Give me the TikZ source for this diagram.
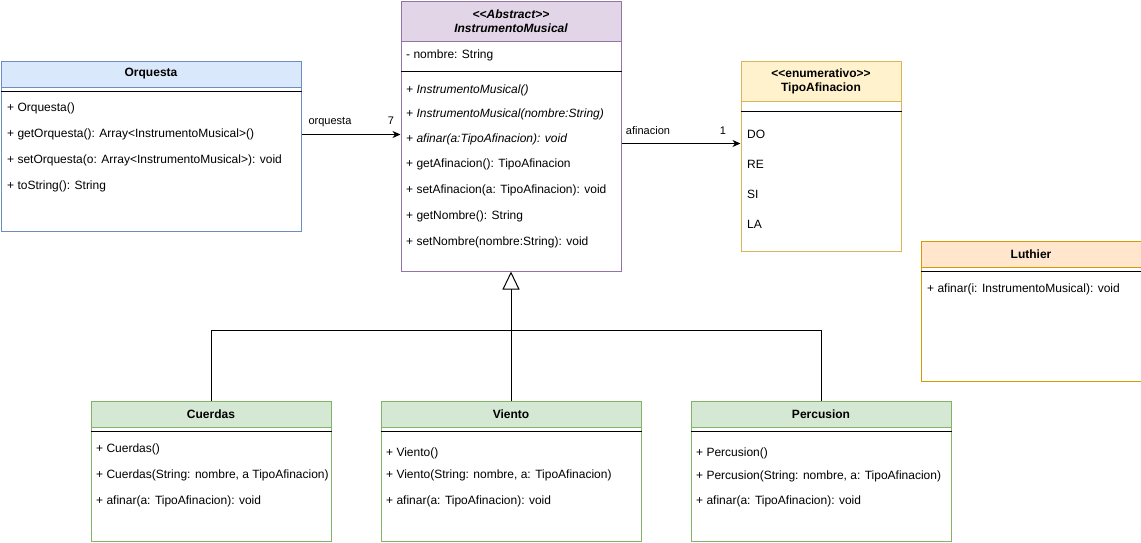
\documentclass[tikz,border=0pt]{standalone}
\usepackage{fontspec}
\setmainfont{Liberation Sans}
\usetikzlibrary{arrows.meta}
\definecolor{blueF}{HTML}{DAE8FC}\definecolor{blueS}{HTML}{6C8EBF}
\definecolor{purpleF}{HTML}{E1D5E7}\definecolor{purpleS}{HTML}{9673A6}
\definecolor{yellowF}{HTML}{FFF2CC}\definecolor{yellowS}{HTML}{D6B656}
\definecolor{orangeF}{HTML}{FFE6CC}\definecolor{orangeS}{HTML}{D79B00}
\definecolor{greenF}{HTML}{D5E8D4}\definecolor{greenS}{HTML}{82B366}
\tikzset{
  clsbox/.style={draw, fill=white, line width=1pt, anchor=north west, inner sep=0pt},
  hdr/.style={draw, line width=1pt, anchor=north west, inner sep=0pt, align=center,
    font=\fontsize{12}{14}\selectfont\bfseries},
  mem/.style={anchor=west, inner sep=0pt, text height=8.6pt, text depth=2.2pt, yshift=-1.5pt,
    font=\fontsize{12}{14}\selectfont},
  lbl/.style={inner sep=0pt, text height=8pt, text depth=2pt, font=\fontsize{11}{13}\selectfont},
  sepline/.style={line width=1pt, black},
  assoc/.style={line width=1pt, -{Stealth[length=8pt,width=7pt,inset=2.5pt]}},
  genline/.style={line width=1pt},
  genarrow/.style={line width=1pt, -{Triangle[open,length=18pt,width=17pt,fill=white]}},
}
\begin{document}
\begin{tikzpicture}[x=1pt,y=-1pt]
\useasboundingbox[fill=white] (0,0) rectangle (1141,542);

% ---------- Orquesta ----------
\node[clsbox, draw=blueS, minimum width=300pt, minimum height=170pt] (orq) at (0.5,60.5) {};
\node[hdr, draw=blueS, fill=blueF, minimum width=300pt, minimum height=26pt] (orqH) at (0.5,60.5) {Orquesta};
\draw[sepline] ([yshift=-4pt]orqH.south west) -- ([yshift=-4pt]orqH.south east);
\node[mem] (o1) at (7,107) {+ Orquesta()};
\node[mem] (o2) at (7,133) {+ getOrquesta(): Array<InstrumentoMusical>()};
\node[mem] (o3) at (7,159) {+ setOrquesta(o: Array<InstrumentoMusical>): void};
\node[mem] (o4) at (7,185) {+ toString(): String};

% ---------- InstrumentoMusical ----------
\node[clsbox, draw=purpleS, minimum width=220pt, minimum height=270pt] (ins) at (400.5,0.5) {};
\node[hdr, draw=purpleS, fill=purpleF, minimum width=220pt, minimum height=40pt,
  font=\fontsize{12}{14}\selectfont\bfseries\itshape] (insH) at (400.5,0.5)
  {<\kern0pt<Abstract>\kern0pt>\\InstrumentoMusical};
\node[mem] (iA) at (406,54) {- nombre: String};
\draw[sepline] (ins.west |- 0,71) -- (ins.east |- 0,71);
\node[mem] (i1) at (406,89) {\itshape + InstrumentoMusical()};
\node[mem] (i2) at (406,113) {\itshape + InstrumentoMusical(nombre:String)};
\node[mem] (i3) at (406,138) {\itshape + afinar(a:TipoAfinacion): void};
\node[mem] (i4) at (406,163) {+ getAfinacion(): TipoAfinacion};
\node[mem] (i5) at (406,189) {+ setAfinacion(a: TipoAfinacion): void};
\node[mem] (i6) at (406,215) {+ getNombre(): String};
\node[mem] (i7) at (406,241) {+ setNombre(nombre:String): void};

% ---------- TipoAfinacion ----------
\node[clsbox, draw=yellowS, minimum width=160pt, minimum height=190pt] (tip) at (740.5,60.5) {};
\node[hdr, draw=yellowS, fill=yellowF, minimum width=160pt, minimum height=40pt] (tipH) at (740.5,60.5)
  {<\kern0pt<enumerativo>\kern0pt>\\TipoAfinacion};
\draw[sepline] ([yshift=-10pt]tipH.south west) -- ([yshift=-10pt]tipH.south east);
\node[mem] (t1) at (747,134) {DO};
\node[mem] (t2) at (747,164) {RE};
\node[mem] (t3) at (747,194) {SI};
\node[mem] (t4) at (747,224) {LA};

% ---------- Luthier ----------
\node[clsbox, draw=orangeS, minimum width=220pt, minimum height=140pt] (lut) at (920.5,240.5) {};
\node[hdr, draw=orangeS, fill=orangeF, minimum width=220pt, minimum height=26pt] (lutH) at (920.5,240.5) {Luthier};
\draw[sepline] ([yshift=-4pt]lutH.south west) -- ([yshift=-4pt]lutH.south east);
\node[mem] (l1) at (927,288) {+ afinar(i: InstrumentoMusical): void};

% ---------- Cuerdas ----------
\node[clsbox, draw=greenS, minimum width=240pt, minimum height=140pt] (cue) at (90.5,400.5) {};
\node[hdr, draw=greenS, fill=greenF, minimum width=240pt, minimum height=26pt] (cueH) at (90.5,400.5) {Cuerdas};
\draw[sepline] ([yshift=-4pt]cueH.south west) -- ([yshift=-4pt]cueH.south east);
\node[mem] (c1) at (96,448) {+ Cuerdas()};
\node[mem] (c2) at (96,474) {+ Cuerdas(String: nombre, a TipoAfinacion)};
\node[mem] (c3) at (96,500) {+ afinar(a: TipoAfinacion): void};

% ---------- Viento ----------
\node[clsbox, draw=greenS, minimum width=260pt, minimum height=140pt] (vie) at (380.5,400.5) {};
\node[hdr, draw=greenS, fill=greenF, minimum width=260pt, minimum height=26pt] (vieH) at (380.5,400.5) {Viento};
\draw[sepline] ([yshift=-4pt]vieH.south west) -- ([yshift=-4pt]vieH.south east);
\node[mem] (v1) at (386,452) {+ Viento()};
\node[mem] (v2) at (386,474) {+ Viento(String: nombre, a: TipoAfinacion)};
\node[mem] (v3) at (386,500) {+ afinar(a: TipoAfinacion): void};

% ---------- Percusion ----------
\node[clsbox, draw=greenS, minimum width=260pt, minimum height=140pt] (per) at (690.5,400.5) {};
\node[hdr, draw=greenS, fill=greenF, minimum width=260pt, minimum height=26pt] (perH) at (690.5,400.5) {Percusion};
\draw[sepline] ([yshift=-4pt]perH.south west) -- ([yshift=-4pt]perH.south east);
\node[mem] (p1) at (696,452) {+ Percusion()};
\node[mem] (p2) at (696,475) {+ Percusion(String: nombre, a: TipoAfinacion)};
\node[mem] (p3) at (696,500) {+ afinar(a: TipoAfinacion): void};

% ---------- connectors ----------
\coordinate (yOrq) at (0,134.5);
\coordinate (yAfi) at (0,143.5);
\coordinate (yGen) at (0,330.5);
\draw[assoc] (orq.east |- yOrq) -- (ins.west |- yOrq);
\node[lbl] (lOrq) at (330,121) {orquesta};
\node[lbl] (lSeven) at (391,121) {7};
\draw[assoc] (ins.east |- yAfi) -- (tip.west |- yAfi);
\node[lbl] (lAfi) at (648,131) {afinacion};
\node[lbl] (lOne) at (723,131) {1};

\draw[genline] (cue.north) |- (vie.north |- yGen);
\draw[genline] (per.north) |- (vie.north |- yGen);
\draw[genarrow] (vie.north) -- (ins.south);
\end{tikzpicture}
\end{document}
